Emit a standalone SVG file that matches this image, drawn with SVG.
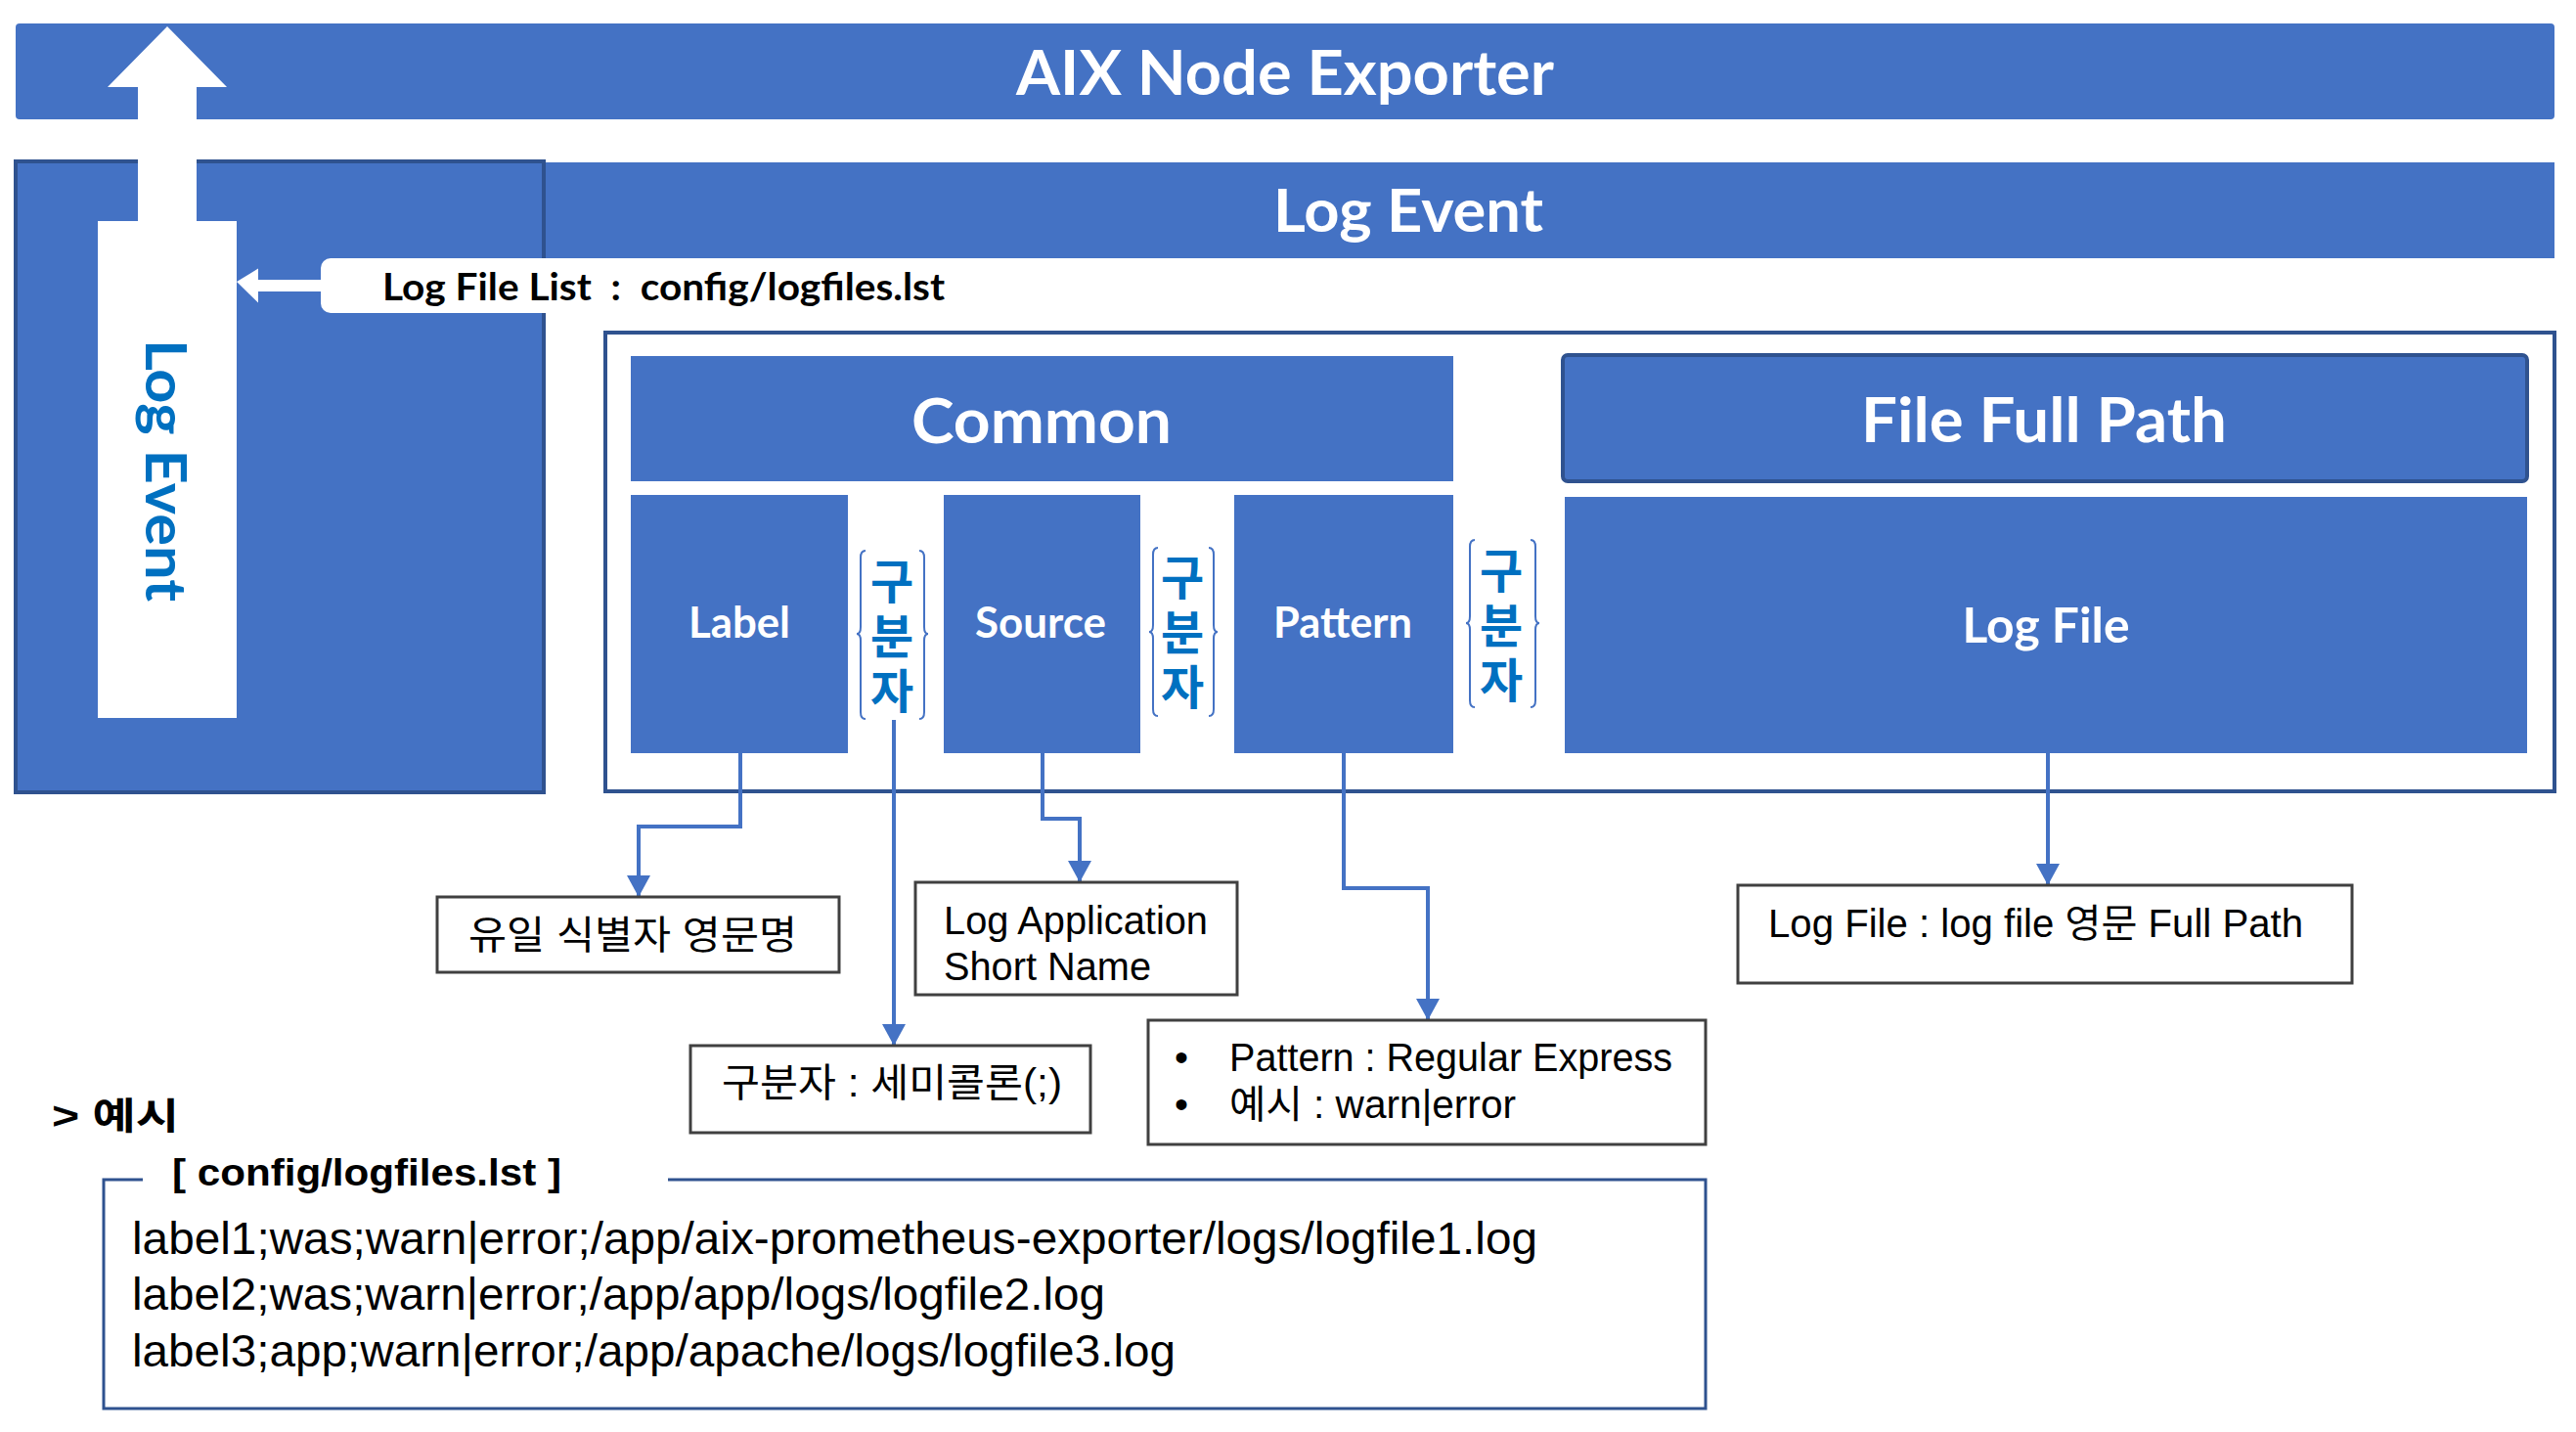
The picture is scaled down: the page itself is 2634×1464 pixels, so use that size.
<svg xmlns="http://www.w3.org/2000/svg" width="2634" height="1464" viewBox="0 0 2634 1464">
  <style>
    .bl { fill: #4472C4; }
    .dk { stroke: #2F528F; stroke-width: 4; }
    .title { font-family: Lato, "Open Sans", "Noto Sans", sans-serif; font-weight: 700; fill: #FFFFFF; text-anchor: middle; }
    .sep { font-family: "Noto Sans CJK KR", sans-serif; font-weight: 700; fill: #0070C0; font-size: 48px; writing-mode: vertical-rl; text-orientation: upright; letter-spacing: 8px; }
    .brace { fill: none; stroke: #4472C4; stroke-width: 2; }
    .conn { fill: none; stroke: #4472C4; stroke-width: 4; }
    .note { fill: #FFFFFF; stroke: #404040; stroke-width: 3; }
    .nt { font-family: "Liberation Sans", Arial, "Noto Sans CJK KR", sans-serif; font-size: 40px; fill: #000000; }
    .ex { font-family: "Liberation Sans", Arial, sans-serif; font-size: 47px; fill: #000000; }
  </style>
  <defs>
    <marker id="ah" markerUnits="userSpaceOnUse" markerWidth="24" markerHeight="26" refX="22" refY="12" orient="auto">
      <path d="M0,0 L22,12 L0,24 z" fill="#4472C4"/>
    </marker>
  </defs>

  <g id="aix-node-exporter">
    <rect x="16" y="24" width="2596" height="98" rx="4" class="bl"/>
    <text class="title" x="1314" y="97" font-size="64" textLength="550" lengthAdjust="spacingAndGlyphs">AIX Node Exporter</text>
  </g>

  <g id="log-event-bar">
    <rect x="265" y="166" width="2347" height="98" class="bl"/>
    <text class="title" x="1440" y="237" font-size="61" textLength="276" lengthAdjust="spacingAndGlyphs">Log Event</text>
  </g>

  <g id="log-event-panel">
    <rect x="16" y="165" width="540" height="645" class="bl dk"/>
    <polygon points="171,27 232,89 201,89 201,230 141,230 141,89 110,89" fill="#FFFFFF"/>
    <rect x="100" y="226" width="142" height="508" fill="#FFFFFF"/>
    <text transform="translate(149,481) rotate(90)" x="0" y="0" font-family="Lato, 'Open Sans', sans-serif" font-weight="700" font-size="58" fill="#0070C0" text-anchor="middle" textLength="268" lengthAdjust="spacingAndGlyphs">Log Event</text>
  </g>

  <g id="log-file-list">
    <rect x="328" y="264" width="720" height="56" rx="10" fill="#FFFFFF"/>
    <polygon points="242,288 264,274.5 264,286 330,286 330,298 264,298 264,309.5" fill="#FFFFFF"/>
    <text x="391" y="307" font-family="Lato, 'Open Sans', sans-serif" font-weight="700" font-size="39" fill="#000000" xml:space="preserve" textLength="575" lengthAdjust="spacingAndGlyphs">Log File List  :  config/logfiles.lst</text>
  </g>

  <g id="container">
    <rect x="619" y="340" width="1993" height="469" fill="#FFFFFF" class="dk"/>
  </g>

  <g id="common">
    <rect x="645" y="364" width="841" height="128" class="bl"/>
    <text class="title" x="1065" y="453" font-size="64" textLength="266" lengthAdjust="spacingAndGlyphs">Common</text>
  </g>

  <g id="file-full-path">
    <rect x="1598" y="363" width="986" height="129" rx="5" class="bl dk"/>
    <text class="title" x="2090" y="452" font-size="64" textLength="374" lengthAdjust="spacingAndGlyphs">File Full Path</text>
  </g>

  <g id="label">
    <rect x="645" y="506" width="222" height="264" class="bl"/>
    <text class="title" x="756" y="652" font-size="43" textLength="104" lengthAdjust="spacingAndGlyphs">Label</text>
  </g>

  <g id="source">
    <rect x="965" y="506" width="201" height="264" class="bl"/>
    <text class="title" x="1064" y="652" font-size="43" textLength="134" lengthAdjust="spacingAndGlyphs">Source</text>
  </g>

  <g id="pattern">
    <rect x="1262" y="506" width="224" height="264" class="bl"/>
    <text class="title" x="1373" y="652" font-size="43" textLength="142" lengthAdjust="spacingAndGlyphs">Pattern</text>
  </g>

  <g id="log-file">
    <rect x="1600" y="508" width="984" height="262" class="bl"/>
    <text class="title" x="2092" y="657" font-size="50" textLength="171" lengthAdjust="spacingAndGlyphs">Log File</text>
  </g>

  <g id="separator-1">
    <path class="brace" d="M885,563 Q880,563 880,570 L880,641 Q880,648 876,648 Q880,648 880,655 L880,728 Q880,735 885,735"/>
    <path class="brace" d="M940,563 Q945,563 945,570 L945,641 Q945,648 949,648 Q945,648 945,655 L945,728 Q945,735 940,735"/>
    <text class="sep" x="912" y="570">구분자</text>
  </g>

  <g id="separator-2">
    <path class="brace" d="M1184,560 Q1179,560 1179,567 L1179,639 Q1179,646 1175,646 Q1179,646 1179,653 L1179,725 Q1179,732 1184,732"/>
    <path class="brace" d="M1236,560 Q1241,560 1241,567 L1241,639 Q1241,646 1245,646 Q1241,646 1241,653 L1241,725 Q1241,732 1236,732"/>
    <text class="sep" x="1209" y="566">구분자</text>
  </g>

  <g id="separator-3">
    <path class="brace" d="M1508,552 Q1503,552 1503,559 L1503,630 Q1503,637 1499,637 Q1503,637 1503,644 L1503,716 Q1503,723 1508,723"/>
    <path class="brace" d="M1565,552 Q1570,552 1570,559 L1570,630 Q1570,637 1574,637 Q1570,637 1570,644 L1570,716 Q1570,723 1565,723"/>
    <text class="sep" x="1535" y="559">구분자</text>
  </g>

  <g id="connectors">
    <path class="conn" d="M757,770 V845 H653 V917" marker-end="url(#ah)"/>
    <path class="conn" d="M914,736 V1069" marker-end="url(#ah)"/>
    <path class="conn" d="M1066,770 V837 H1104 V902" marker-end="url(#ah)"/>
    <path class="conn" d="M1374,770 V908 H1460 V1043" marker-end="url(#ah)"/>
    <path class="conn" d="M2094,770 V905" marker-end="url(#ah)"/>
  </g>

  <g id="note-label">
    <rect x="447" y="917" width="411" height="77" class="note"/>
    <text class="nt" x="479" y="970" textLength="336" lengthAdjust="spacingAndGlyphs">유일 식별자 영문명</text>
  </g>

  <g id="note-source">
    <rect x="936" y="902" width="329" height="115" class="note"/>
    <text class="nt" x="965" y="955" textLength="270" lengthAdjust="spacingAndGlyphs">Log Application</text>
    <text class="nt" x="965" y="1002" textLength="212" lengthAdjust="spacingAndGlyphs">Short Name</text>
  </g>

  <g id="note-separator">
    <rect x="706" y="1069" width="409" height="89" class="note"/>
    <text class="nt" x="738" y="1121" textLength="348" lengthAdjust="spacingAndGlyphs">구분자 : 세미콜론(;)</text>
  </g>

  <g id="note-pattern">
    <rect x="1174" y="1043" width="570" height="127" class="note"/>
    <text class="nt" x="1201" y="1095">•</text>
    <text class="nt" x="1257" y="1095" textLength="453" lengthAdjust="spacingAndGlyphs">Pattern : Regular Express</text>
    <text class="nt" x="1201" y="1143">•</text>
    <text class="nt" x="1257" y="1143" textLength="293" lengthAdjust="spacingAndGlyphs">예시 : warn|error</text>
  </g>

  <g id="note-logfile">
    <rect x="1777" y="905" width="628" height="100" class="note"/>
    <text class="nt" x="1808" y="958" textLength="547" lengthAdjust="spacingAndGlyphs">Log File : log file 영문 Full Path</text>
  </g>

  <g id="example">
    <text x="53" y="1154" font-family="'Liberation Sans', Arial, 'Noto Sans CJK KR', sans-serif" font-weight="700" font-size="38" fill="#000000" textLength="130" lengthAdjust="spacingAndGlyphs">&gt; 예시</text>
    <path d="M146,1206 H106 V1440 H1744 V1206 H683" fill="none" stroke="#2F528F" stroke-width="3"/>
    <text x="176" y="1212" font-family="'Liberation Sans', Arial, sans-serif" font-weight="700" font-size="38" fill="#000000" textLength="398" lengthAdjust="spacingAndGlyphs">[ config/logfiles.lst ]</text>
    <text class="ex" x="135" y="1282" textLength="1437" lengthAdjust="spacingAndGlyphs">label1;was;warn|error;/app/aix-prometheus-exporter/logs/logfile1.log</text>
    <text class="ex" x="135" y="1339" textLength="995" lengthAdjust="spacingAndGlyphs">label2;was;warn|error;/app/app/logs/logfile2.log</text>
    <text class="ex" x="135" y="1397" textLength="1067" lengthAdjust="spacingAndGlyphs">label3;app;warn|error;/app/apache/logs/logfile3.log</text>
  </g>
</svg>
